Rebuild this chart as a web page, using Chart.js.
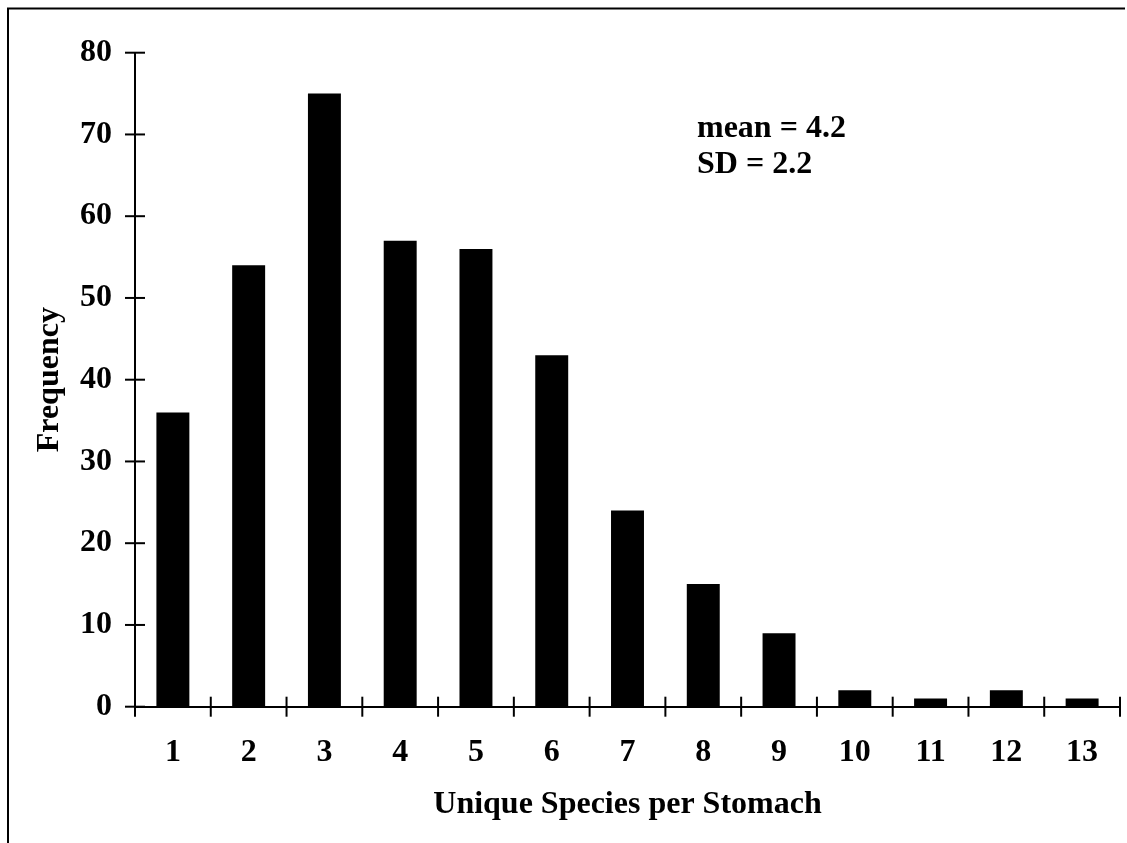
<!DOCTYPE html>
<html>
<head>
<meta charset="utf-8">
<script src="https://cdn.jsdelivr.net/npm/chart.js@4.4.1/dist/chart.umd.min.js"></script>
<style>
  html, body { margin: 0; padding: 0; background: #fff; }
  #wrap { position: relative; width: 1127px; height: 843px; }
  canvas { display: block; }
</style>
</head>
<body>
<div id="wrap"><canvas id="c" width="1127" height="843"></canvas></div>
<script>
const categories = ['1','2','3','4','5','6','7','8','9','10','11','12','13'];
const frequency = [36, 54, 75, 57, 56, 43, 24, 15, 9, 2, 1, 2, 1];
const yTicks = [0, 10, 20, 30, 40, 50, 60, 70, 80];
const annotationLines = ['mean = 4.2', 'SD = 2.2'];
const xTitle = 'Unique Species per Stomach';
const yTitle = 'Frequency';

const FONT = '"Liberation Serif", "Times New Roman", serif';
const fontSize = 32;

const crossTicks = {
  id: 'crossTicks',
  afterDraw(chart) {
    const ctx = chart.ctx;
    const x = chart.scales.x, y = chart.scales.y;
    const ca = chart.chartArea;
    ctx.save();
    ctx.strokeStyle = '#000';
    ctx.lineWidth = 2;
    // y ticks crossing the axis
    yTicks.forEach(v => {
      const py = y.getPixelForValue(v);
      ctx.beginPath();
      ctx.moveTo(ca.left - 10, py);
      ctx.lineTo(ca.left + 10, py);
      ctx.stroke();
    });
    // x ticks at category boundaries
    const n = categories.length;
    for (let i = 0; i <= n; i++) {
      let px;
      if (i === 0) px = x.getPixelForValue(0) - (x.getPixelForValue(1) - x.getPixelForValue(0)) / 2;
      else if (i === n) px = x.getPixelForValue(n - 1) + (x.getPixelForValue(n - 1) - x.getPixelForValue(n - 2)) / 2;
      else px = (x.getPixelForValue(i - 1) + x.getPixelForValue(i)) / 2;
      ctx.beginPath();
      ctx.moveTo(px, ca.bottom - 10);
      ctx.lineTo(px, ca.bottom + 10);
      ctx.stroke();
    }
    // annotation text
    ctx.fillStyle = '#000';
    ctx.font = 'bold ' + fontSize + 'px ' + FONT;
    ctx.textAlign = 'left';
    ctx.textBaseline = 'alphabetic';
    annotationLines.forEach((t, i) => {
      ctx.fillText(t, 697, 137 + i * 36);
    });
    // outer frame (top and left)
    ctx.beginPath();
    ctx.moveTo(8, 843);
    ctx.lineTo(8, 8.5);
    ctx.lineTo(1125, 8.5);
    ctx.stroke();
    ctx.restore();
  }
};

new Chart(document.getElementById('c'), {
  type: 'bar',
  data: {
    labels: categories,
    datasets: [{
      data: frequency,
      backgroundColor: '#000',
      borderWidth: 0,
      categoryPercentage: 1,
      barPercentage: 0.435
    }]
  },
  options: {
    responsive: false,
    animation: false,
    devicePixelRatio: 1,
    layout: { padding: { left: 0, top: 52.7, right: 7, bottom: 0 } },
    plugins: { legend: { display: false }, tooltip: { enabled: false } },
    scales: {
      x: {
        type: 'category',
        offset: true,
        grid: { display: false, drawTicks: false },
        border: { display: true, color: '#000', width: 2 },
        ticks: { color: '#000', font: { family: FONT, size: fontSize, weight: 'bold' }, padding: 27, maxRotation: 0, autoSkip: false },
        title: { display: true, text: xTitle, color: '#000', font: { family: FONT, size: fontSize, weight: 'bold' }, padding: { top: 0, bottom: 19 } },
        afterFit(s) { s.height = 843 - 706.7; }
      },
      y: {
        min: 0, max: 80,
        grid: { display: false, drawTicks: false },
        border: { display: true, color: '#000', width: 2 },
        afterBuildTicks(s) { s.ticks = yTicks.map(v => ({ value: v })); },
        ticks: { color: '#000', font: { family: FONT, size: fontSize, weight: 'bold' }, padding: 23 },
        title: { display: true, text: yTitle, color: '#000', font: { family: FONT, size: fontSize, weight: 'bold' }, padding: { top: 31, bottom: 0 } },
        afterFit(s) { s.width = 135; }
      }
    }
  },
  plugins: [crossTicks]
});
</script>
</body>
</html>
